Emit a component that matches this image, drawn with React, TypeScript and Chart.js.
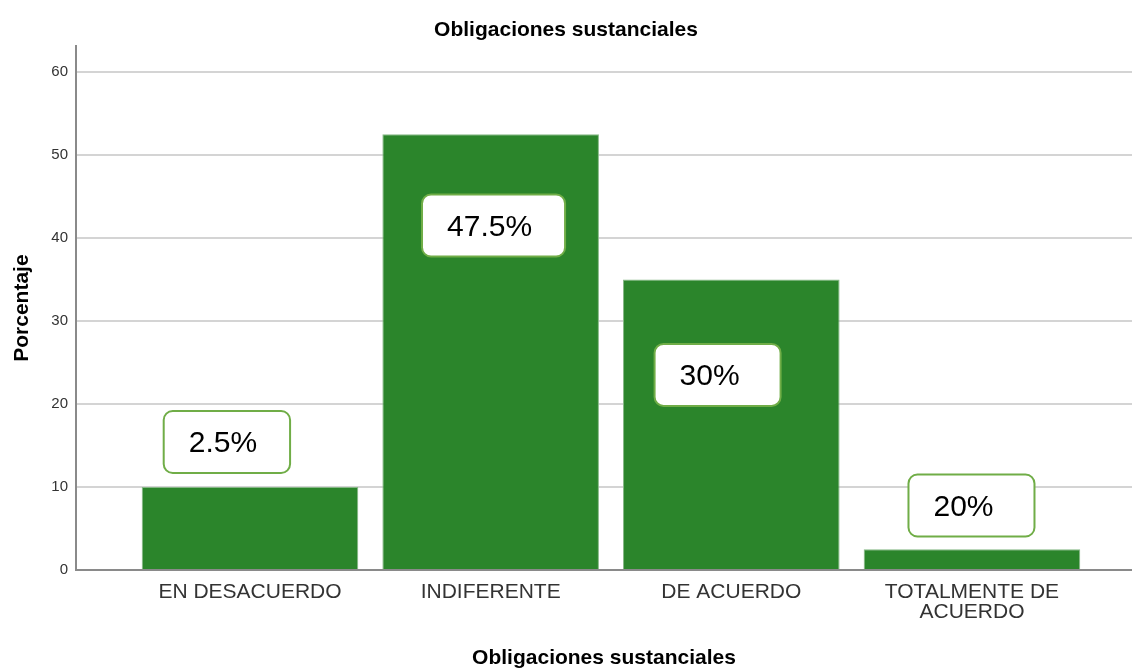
import React, { useEffect, useRef } from "react";
import { Chart, registerables } from "chart.js";

Chart.register(...registerables);

const chartTitle = "Obligaciones sustanciales";
const xAxisTitle = "Obligaciones sustanciales";
const yAxisTitle = "Porcentaje";
const categories: (string | string[])[] = [
  "EN DESACUERDO",
  "INDIFERENTE",
  "DE ACUERDO",
  ["TOTALMENTE DE", "ACUERDO"],
];
const categoryPositions = [1, 2, 3, 4];
const percentages = [10, 52.5, 35, 2.5];
const yTickValues = [0, 10, 20, 30, 40, 50, 60];
const boxLabels = ["2.5%", "47.5%", "30%", "20%"];
const boxLabelX = [0.904, 2.012, 2.943, 3.998];
const boxLabelY = [15.42, 41.5, 23.5, 7.77];

const FONT = "'Liberation Sans', Arial, Helvetica, sans-serif";

const boxPlugin = {
  id: "boxLabels",
  afterDatasetsDraw(chart: any) {
    const { ctx, scales } = chart;
    const xs = scales.x;
    const ys = scales.y;
    ctx.save();
    ctx.font = `30px ${FONT}`;
    boxLabels.forEach((txt, i) => {
      const cx = xs.getPixelForValue(boxLabelX[i]);
      const cy = ys.getPixelForValue(boxLabelY[i]);
      const tw = ctx.measureText(txt).width;
      const w = Math.max(tw + 58, 126);
      const h = 62;
      const left = cx - w / 2;
      const top = cy - h / 2;
      ctx.beginPath();
      ctx.roundRect(left, top, w, h, 9);
      ctx.fillStyle = "#ffffff";
      ctx.fill();
      ctx.lineWidth = 2;
      ctx.strokeStyle = "#70ad47";
      ctx.stroke();
      ctx.fillStyle = "#000000";
      ctx.textAlign = "left";
      ctx.textBaseline = "middle";
      ctx.fillText(txt, left + 25, cy + 2);
    });
    ctx.restore();
  },
};

export default function App() {
  const ref = useRef<HTMLCanvasElement | null>(null);

  useEffect(() => {
    document.body.style.margin = "0";
    const canvas = ref.current;
    if (!canvas) return;
    const chart = new Chart(canvas, {
      type: "bar",
      data: {
        datasets: [
          {
            label: "Porcentaje",
            data: categoryPositions.map((x, i) => ({ x, y: percentages[i] })),
            backgroundColor: "#2b852b",
            borderColor: "#86b886",
            borderWidth: 1,
            categoryPercentage: 1,
            barPercentage: 0.9,
          },
        ],
      },
      options: {
        responsive: false,
        animation: false,
        maintainAspectRatio: false,
        layout: { padding: { left: 0, right: 0, top: 0, bottom: 0 } },
        plugins: {
          legend: { display: false },
          tooltip: { enabled: false },
          title: {
            display: true,
            text: chartTitle,
            color: "#000000",
            font: { family: FONT, size: 21, weight: "bold" },
            padding: { top: 18, bottom: 3 },
          },
        },
        scales: {
          x: {
            type: "linear",
            min: 0.277,
            max: 4.665,
            offset: false,
            afterBuildTicks: (scale: any) => {
              scale.ticks = categoryPositions.map((v) => ({ value: v }));
            },
            afterFit: (scale: any) => {
              scale.height = 99;
            },
            grid: { display: false, drawTicks: false, offset: false },
            border: { display: true, color: "#8a8a8a", width: 2 },
            ticks: {
              autoSkip: false,
              maxRotation: 0,
              padding: 12,
              color: "#333333",
              font: { family: FONT, size: 21, lineHeight: 0.97 },
              callback: (v: any) => categories[categoryPositions.indexOf(Number(v))] as any,
            },
            title: {
              display: true,
              text: xAxisTitle,
              color: "#000000",
              font: { family: FONT, size: 21, weight: "bold", lineHeight: 1.0 },
              padding: { top: 0, bottom: 0 },
            },
          },
          y: {
            type: "linear",
            min: 0,
            max: 63.1,
            afterBuildTicks: (scale: any) => {
              scale.ticks = yTickValues.map((v) => ({ value: v }));
            },
            afterFit: (scale: any) => {
              scale.width = 76;
            },
            grid: { color: "#d4d4d4", lineWidth: 2, drawTicks: false },
            border: { display: true, color: "#8a8a8a", width: 2 },
            ticks: {
              padding: 8,
              color: "#333333",
              font: { family: FONT, size: 15 },
            },
            title: {
              display: true,
              text: yAxisTitle,
              color: "#000000",
              font: { family: FONT, size: 21, weight: "bold" },
              padding: { top: 10, bottom: 0 },
            },
          },
        },
      },
      plugins: [boxPlugin],
    } as any);
    return () => chart.destroy();
  }, []);

  return (
    <div style={{ width: 1132, height: 669 }}>
      <canvas ref={ref} width={1132} height={669} />
    </div>
  );
}
